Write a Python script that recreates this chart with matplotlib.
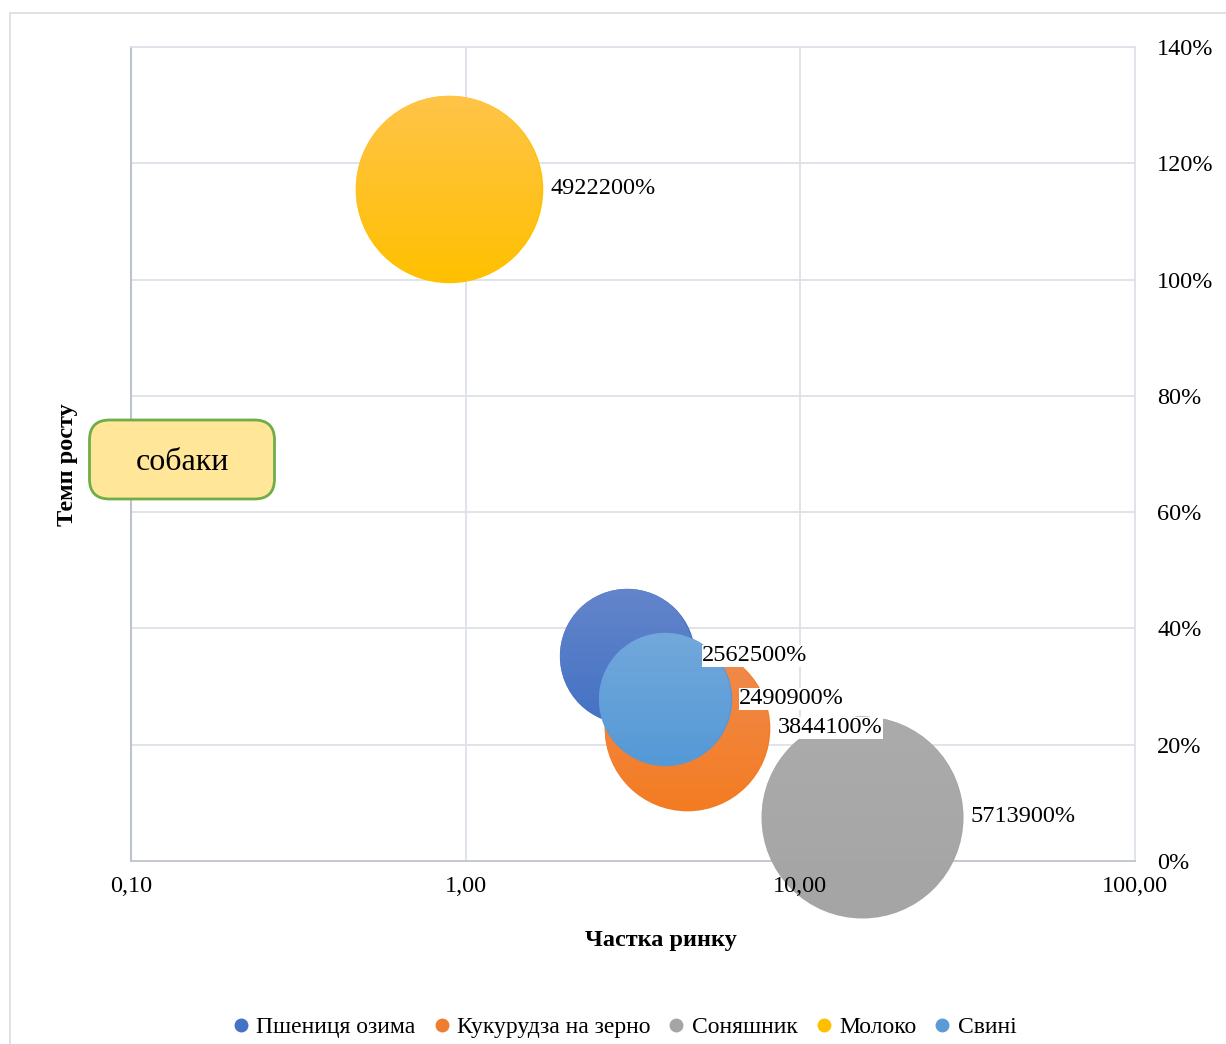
import matplotlib.pyplot as plt
from matplotlib.patches import FancyBboxPatch, Rectangle, Circle
from matplotlib.ticker import FuncFormatter, FixedLocator
from matplotlib.transforms import IdentityTransform
from matplotlib.colors import to_rgb
import numpy as np

plt.rcParams['font.family'] = ['Liberation Serif', 'DejaVu Serif']

# data
names = ['Пшениця озима', 'Кукурудза на зерно', 'Соняшник', 'Молоко', 'Свині']
share = [3.03, 4.58, 15.3, 0.89, 3.94]          # market share (log x)
growth = [0.353, 0.229, 0.076, 1.156, 0.279]    # growth rate
sizes = [2562500, 3844100, 5713900, 4922200, 2490900]
colors = ['#4472C4', '#F47C22', '#A5A5A5', '#FFC000', '#5599D7']
top_colors = ['#6485CB', '#EF8B4F', '#ABABAB', '#FFC449', '#73A8DB']
legend_colors = ['#4472C4', '#ED7D31', '#A5A5A5', '#FFC000', '#5B9BD5']

xticks = [0.1, 1, 10, 100]
yticks = [0, 0.2, 0.4, 0.6, 0.8, 1.0, 1.2, 1.4]

fig = plt.figure(figsize=(12.26, 10.44), dpi=100)
ax = fig.add_axes([0.1069, 0.1753, 0.8189, 0.7797])

# outer chart frame
fig.add_artist(Rectangle((10 / 1226, -0.01), 1.1, (1044 - 13) / 1044 + 0.01,
                         transform=fig.transFigure, fill=False,
                         edgecolor='#D9DCE1', lw=1.2))

ax.set_xscale('log')
ax.set_xlim(0.1, 100)
ax.set_ylim(0, 1.4)

# gridlines drawn by hand so the tick labels can sit above the bubbles
for v in xticks[1:-1]:
    ax.axvline(v, color='#DDE1E8', lw=1.3, zorder=0.5)
for v in yticks[1:-1]:
    ax.axhline(v, color='#DDE1E8', lw=1.3, zorder=0.5)

# bubble area proportional to size, biggest one ~101 px radius
max_r_pt = 101 * 72 / 100
k = (2 * max_r_pt) ** 2 / max(sizes)
s = [k * v for v in sizes]

order = np.argsort(sizes)[::-1]
for z, i in enumerate(order):
    zo = 3 + 2 * z
    ax.scatter(share[i], growth[i], s=s[i], color=colors[i], zorder=zo,
               linewidths=0, clip_on=False)
    # vertical gradient, lighter at the top
    cx, cy = ax.transData.transform((share[i], growth[i]))
    r = np.sqrt(s[i]) / 2 * fig.dpi / 72
    circ = Circle((cx, cy), r - 0.8, transform=IdentityTransform())
    c0, c1 = np.array(to_rgb(top_colors[i])), np.array(to_rgb(colors[i]))
    t = np.linspace(0, 1, 64)[:, None]
    grad = (c0 * (1 - t) + c1 * t)[:, None, :]
    ax.imshow(grad, extent=[cx - r, cx + r, cy - r, cy + r], origin='upper',
              transform=IdentityTransform(), aspect='auto', interpolation='bilinear',
              zorder=zo + 1, clip_path=circ)

for i in range(len(names)):
    r_pt = np.sqrt(s[i]) / 2
    ax.annotate(f'{sizes[i]}%', (share[i], growth[i]),
                xytext=(r_pt + 5.5, 0), textcoords='offset points',
                va='center', ha='left', fontsize=17.5, zorder=40,
                bbox=dict(facecolor='white', edgecolor='none', pad=0.3))

ax.set_xlim(0.1, 100)
ax.set_ylim(0, 1.4)
ax.xaxis.set_major_locator(FixedLocator(xticks))
ax.xaxis.set_minor_locator(FixedLocator([]))
ax.xaxis.set_major_formatter(FuncFormatter(lambda v, p: f'{v:.2f}'.replace('.', ',')))
ax.set_yticks(yticks)
ax.yaxis.set_major_formatter(FuncFormatter(lambda v, p: f'{v * 100:.0f}%'))
ax.yaxis.tick_right()
ax.tick_params(axis='both', length=0, labelsize=17.5)
ax.tick_params(axis='x', pad=11)
ax.tick_params(axis='y', pad=16)
ax.xaxis.set_zorder(50)
ax.yaxis.set_zorder(50)

for side in ['top', 'right']:
    ax.spines[side].set_color('#DDE1E8')
    ax.spines[side].set_linewidth(1.3)
ax.spines['left'].set_color('#BCC3CF')
ax.spines['left'].set_linewidth(1.5)
ax.spines['bottom'].set_color('#BFC4CC')
ax.spines['bottom'].set_linewidth(1.3)
for sp in ax.spines.values():
    sp.set_zorder(1)

fig.text(0.539, 0.099, 'Частка ринку', ha='center', va='center',
         fontsize=17.5, fontweight='bold')
fig.text(0.055, 0.555, 'Темп росту', ha='center', va='center',
         fontsize=17.5, fontweight='bold', rotation=90)

# "собаки" label box
fig.add_artist(FancyBboxPatch((0.895, 5.45), 1.85, 0.79,
                              boxstyle='round,pad=0,rounding_size=0.2',
                              transform=fig.dpi_scale_trans,
                              facecolor='#FFE699', edgecolor='#70AD47', lw=2, zorder=30))
fig.text(1.82, 5.82, 'собаки', transform=fig.dpi_scale_trans, ha='center',
         va='center', fontsize=23, zorder=31)

handles = [plt.Line2D([], [], marker='o', ls='', color=c, markersize=9) for c in legend_colors]
fig.legend(handles, names, loc='center', bbox_to_anchor=(0.507, 0.016), ncol=5,
           frameon=False, fontsize=17, handletextpad=0.05, columnspacing=0.5,
           handlelength=1.2)

fig.savefig('out.png', dpi=100)
